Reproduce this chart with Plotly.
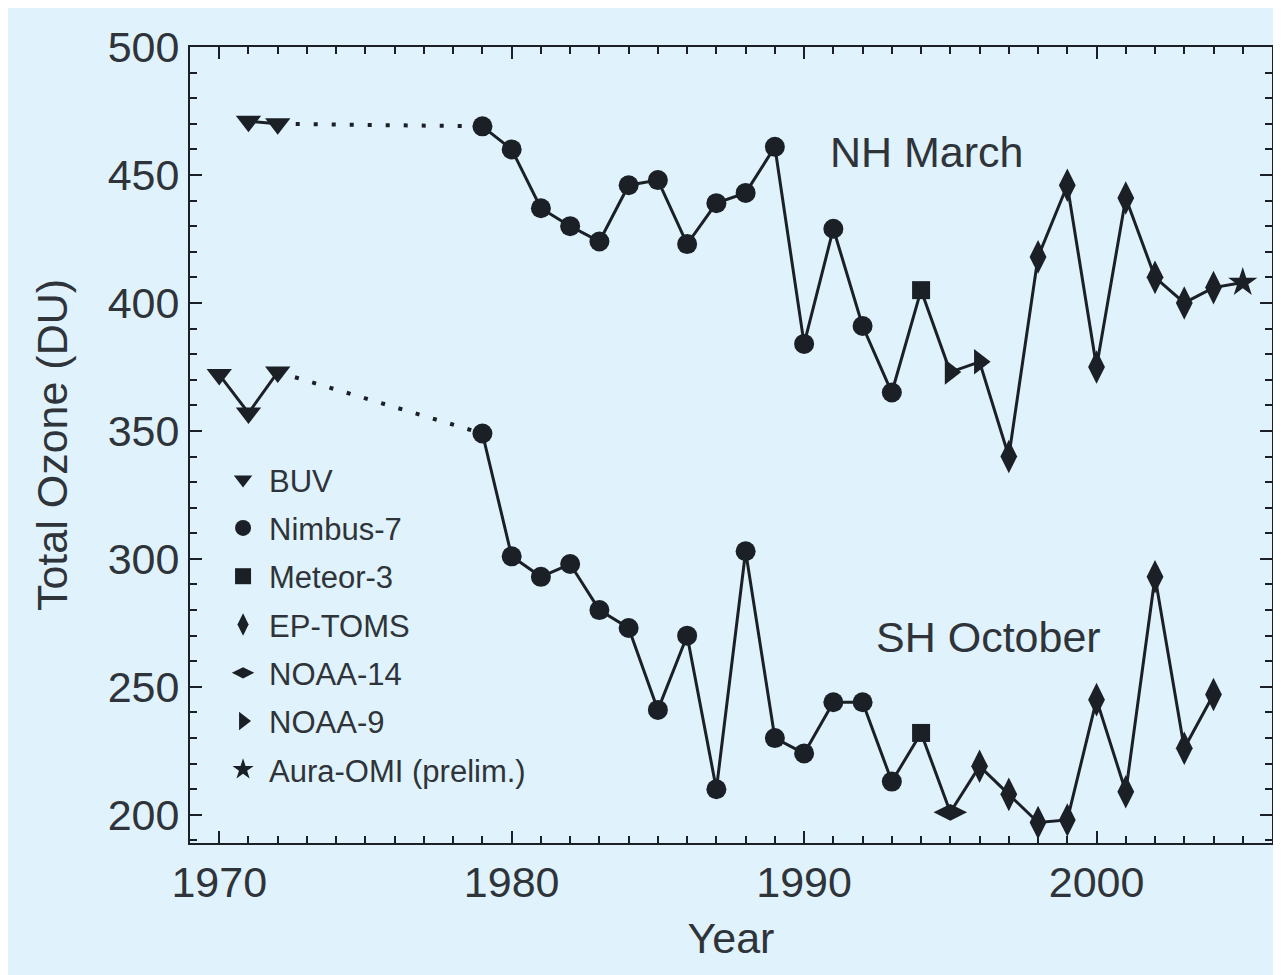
import plotly.graph_objects as go

# NH March total ozone
nh_years = [1971, 1972, 1979, 1980, 1981, 1982, 1983, 1984, 1985, 1986, 1987, 1988,
            1989, 1990, 1991, 1992, 1993, 1994, 1995, 1996, 1997, 1998, 1999, 2000,
            2001, 2002, 2003, 2004, 2005]
nh_ozone = [471, 470, 469, 460, 437, 430, 424, 446, 448, 423, 439, 443,
            461, 384, 429, 391, 365, 405, 373, 377, 340, 418, 446, 375,
            441, 410, 400, 406, 408]
nh_inst = ["BUV", "BUV"] + ["Nimbus-7"] * 15 + ["Meteor-3", "NOAA-9", "NOAA-9"] + \
          ["EP-TOMS"] * 8 + ["Aura-OMI (prelim.)"]

# SH October total ozone
sh_years = [1970, 1971, 1972, 1979, 1980, 1981, 1982, 1983, 1984, 1985, 1986, 1987,
            1988, 1989, 1990, 1991, 1992, 1993, 1994, 1995, 1996, 1997, 1998, 1999,
            2000, 2001, 2002, 2003, 2004]
sh_ozone = [372, 357, 373, 349, 301, 293, 298, 280, 273, 241, 270, 210,
            303, 230, 224, 244, 244, 213, 232, 201, 219, 208, 197, 198,
            245, 209, 293, 226, 247]
sh_inst = ["BUV"] * 3 + ["Nimbus-7"] * 15 + ["Meteor-3", "NOAA-14"] + ["EP-TOMS"] * 9

instruments = ["BUV", "Nimbus-7", "Meteor-3", "EP-TOMS", "NOAA-14", "NOAA-9",
               "Aura-OMI (prelim.)"]
symbols = {"BUV": "triangle-down", "Nimbus-7": "circle", "Meteor-3": "square",
           "EP-TOMS": "diamond-tall", "NOAA-14": "diamond-wide",
           "NOAA-9": "triangle-right", "Aura-OMI (prelim.)": "star"}
sizes = {"BUV": 22, "Nimbus-7": 20, "Meteor-3": 18, "EP-TOMS": 24,
         "NOAA-14": 24, "NOAA-9": 22, "Aura-OMI (prelim.)": 22}

ink = "#1b2026"
bg = "#e0f2fb"
txt = "#2e3439"
fnt = "Liberation Sans, Arial, sans-serif"

fig = go.Figure()

for yrs, vals, inst in [(nh_years, nh_ozone, nh_inst), (sh_years, sh_ozone, sh_inst)]:
    nb = inst.count("BUV")
    # BUV segment
    fig.add_trace(go.Scatter(x=yrs[:nb], y=vals[:nb], mode="lines",
                             line=dict(color=ink, width=3), showlegend=False,
                             hoverinfo="skip"))
    # data gap, dotted
    fig.add_trace(go.Scatter(x=yrs[nb - 1:nb + 1], y=vals[nb - 1:nb + 1], mode="lines",
                             line=dict(color=ink, width=4, dash="4px,14px"),
                             showlegend=False, hoverinfo="skip"))
    # rest
    fig.add_trace(go.Scatter(x=yrs[nb:], y=vals[nb:], mode="lines",
                             line=dict(color=ink, width=3), showlegend=False,
                             hoverinfo="skip"))

for name in instruments:
    xs = [y for y, i in zip(nh_years, nh_inst) if i == name] + \
         [y for y, i in zip(sh_years, sh_inst) if i == name]
    ys = [v for v, i in zip(nh_ozone, nh_inst) if i == name] + \
         [v for v, i in zip(sh_ozone, sh_inst) if i == name]
    fig.add_trace(go.Scatter(x=xs, y=ys, mode="markers", name=name,
                             legendgroup=name,
                             marker=dict(symbol=symbols[name], size=sizes[name],
                                         color=ink, line=dict(width=0))))

fig.add_annotation(x=1994.2, y=459, text="NH March", showarrow=False,
                   font=dict(size=43, color=txt, family=fnt))
fig.add_annotation(x=1996.3, y=269.5, text="SH October", showarrow=False,
                   font=dict(size=43, color=txt, family=fnt))

fig.update_layout(
    width=1281, height=975,
    paper_bgcolor=bg, plot_bgcolor=bg,
    margin=dict(l=182, r=17, t=39, b=140),
    font=dict(family=fnt, color=txt),
    legend=dict(x=0.025, y=0.49, xanchor="left", yanchor="top",
                bgcolor="rgba(0,0,0,0)", font=dict(size=31, color=txt),
                traceorder="grouped", tracegroupgap=5, itemsizing="trace",
                itemwidth=42),
    xaxis=dict(range=[1969, 2006], tickvals=[1970, 1980, 1990, 2000],
               ticks="inside", ticklen=12, tickwidth=2, tickcolor=ink,
               showline=True, linecolor=ink, linewidth=2, mirror="allticks",
               showgrid=False, zeroline=False,
               tickfont=dict(size=43, color=txt),
               minor=dict(dtick=1, ticks="inside", ticklen=7, tickwidth=2,
                          tickcolor=ink, showgrid=False),
               title=dict(text="Year", font=dict(size=43, color=txt),
                          standoff=18)),
    yaxis=dict(range=[189, 500], tickvals=[200, 250, 300, 350, 400, 450, 500],
               ticks="inside", ticklen=12, tickwidth=2, tickcolor=ink,
               showline=True, linecolor=ink, linewidth=2, mirror="allticks",
               showgrid=False, zeroline=False,
               tickfont=dict(size=43, color=txt),
               minor=dict(dtick=10, ticks="inside", ticklen=7, tickwidth=2,
                          tickcolor=ink, showgrid=False),
               title=dict(text="Total Ozone (DU)", font=dict(size=43, color=txt),
                          standoff=27)),
)

fig.write_html("out.html")
